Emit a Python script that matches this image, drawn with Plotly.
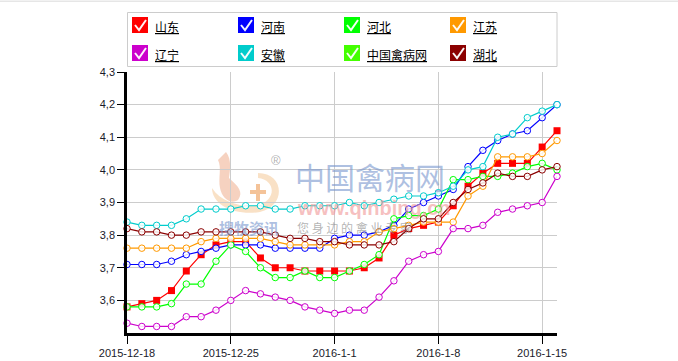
import plotly.graph_objects as go
import pandas as pd

dates = pd.date_range("2015-12-18", periods=30, freq="D")

shandong = [3.58,3.59,3.60,3.63,3.69,3.74,3.77,3.78,3.78,3.73,3.70,3.70,3.69,3.69,3.69,3.69,3.70,3.73,3.80,3.82,3.83,3.84,3.89,3.95,3.99,4.02,4.02,4.02,4.07,4.12]
henan = [3.71,3.71,3.71,3.72,3.74,3.75,3.76,3.77,3.77,3.77,3.76,3.76,3.76,3.76,3.79,3.80,3.80,3.81,3.83,3.88,3.90,3.92,3.94,4.01,4.06,4.09,4.11,4.12,4.16,4.20]
hebei = [3.58,3.58,3.58,3.59,3.65,3.65,3.72,3.77,3.75,3.70,3.67,3.67,3.69,3.67,3.67,3.69,3.71,3.74,3.85,3.86,3.86,3.88,3.97,3.97,3.98,3.98,3.99,4.01,4.02,4.00]
jiangsu = [3.76,3.76,3.76,3.76,3.76,3.78,3.79,3.79,3.79,3.79,3.78,3.77,3.77,3.77,3.77,3.78,3.78,3.81,3.82,3.83,3.84,3.84,3.84,3.92,3.95,4.04,4.04,4.04,4.05,4.09]
liaoning = [3.53,3.52,3.52,3.52,3.55,3.55,3.57,3.60,3.63,3.62,3.61,3.60,3.58,3.57,3.56,3.57,3.57,3.61,3.66,3.72,3.74,3.75,3.82,3.82,3.83,3.87,3.88,3.89,3.90,3.98]
anhui = [3.84,3.83,3.83,3.83,3.85,3.88,3.88,3.88,3.89,3.89,3.88,3.88,3.89,3.89,3.89,3.90,3.89,3.90,3.91,3.92,3.92,3.93,3.95,4.00,4.01,4.10,4.11,4.16,4.18,4.20]
hubei = [3.82,3.81,3.81,3.80,3.80,3.81,3.81,3.81,3.81,3.81,3.80,3.79,3.79,3.78,3.78,3.77,3.77,3.77,3.78,3.82,3.85,3.85,3.90,3.94,3.96,3.99,3.98,3.98,4.00,4.01]

legend_names = ["山东","河南","河北","江苏","辽宁","安徽","中国禽病网","湖北"]
legend_colors = ["#ff0000","#0000ff","#00ff00","#ff9900","#cc00cc","#00cccc","#44ff00","#8b0000"]
y_ticks = [3.6,3.7,3.8,3.9,4.0,4.1,4.2,4.3]

W,H = 678,361
L,R,T,B = 127,557,72,333
px = lambda x:(x-L)/(R-L)
py = lambda y:(B-y)/(B-T)

fig = go.Figure()
line_series = [("山东",shandong,0),("河南",henan,1),("河北",hebei,2),("江苏",jiangsu,3),("辽宁",liaoning,4),("安徽",anhui,5),("湖北",hubei,7)]
for name,vals,ci in line_series:
    c = legend_colors[ci]
    if name=="山东":
        marker = dict(symbol="square",size=7,color=c,line=dict(width=0))
    else:
        marker = dict(symbol="circle",size=6.5,color="rgba(255,255,255,0.85)",line=dict(width=1,color=c))
    fig.add_trace(go.Scatter(x=dates,y=vals,mode="lines+markers",name=name,line=dict(color=c,width=1.2),marker=marker,cliponaxis=False,showlegend=False))

shapes=[]; anns=[]
def rect(x0,y0,x1,y1,fill=None,line=None,lw=1,layer="above"):
    shapes.append(dict(type="rect",xref="paper",yref="paper",x0=px(x0),x1=px(x1),y0=py(y0),y1=py(y1),fillcolor=fill or "rgba(0,0,0,0)",line=dict(color=line or "rgba(0,0,0,0)",width=lw),layer=layer))
def path(pts,color,lw=2,fill=None,layer="above"):
    out=[]
    for tok in pts.split():
        if "," in tok:
            a,b=tok.split(",")
            out.append(f"{px(float(a))},{py(float(b))}")
        else:
            out.append(tok)
    shapes.append(dict(type="path",xref="paper",yref="paper",path=" ".join(out),line=dict(color=color,width=lw),fillcolor=fill or "rgba(0,0,0,0)",layer=layer))
def text(x,y,t,size,color="#000",family="Liberation Sans",anchor="left",opacity=1):
    anns.append(dict(xref="paper",yref="paper",x=px(x),y=py(y),text=t,showarrow=False,xanchor=anchor,yanchor="middle",font=dict(size=size,color=color,family=family),opacity=opacity))

# page top rule and legend frame
rect(0,0.5,W,2,fill="#e6e6e6")
rect(127.5,12.5,557,66.5,fill="white",line="#cccccc",lw=1)
cols=[132,238,344,450]; rows=[17,45]
for i,(n,c) in enumerate(zip(legend_names,legend_colors)):
    x=cols[i%4]; y=rows[i//4]
    rect(x,y,x+16,y+16,fill=c)
    path(f"M {x+3},{y+8} L {x+7},{y+13} L {x+14},{y+3}","rgba(255,255,255,0.95)",lw=2)
    text(x+21,y+9,f"<u>{n}</u>",12,family="Noto Sans CJK SC")

# watermark
wm="rgba(245,205,160,0.6)"
path("M 258,173 C 284,173 287,205 260,212 C 235,216 212,205 212,188 C 222,204 246,208 260,205 C 277,198 275,180 258,178 Z",wm,lw=0,fill=wm,layer="below")
path("M 226,152 C 232,160 230,170 229,178 C 238,186 244,192 238,200 C 230,205 222,198 220,188 C 218,178 222,168 218,160 Z","rgba(240,180,150,0.6)",lw=0,fill="rgba(240,180,150,0.6)",layer="below")
path("M 258,184 L 258,201 M 250,192 L 266,192","rgba(240,170,110,0.7)",lw=4,layer="below")
text(269,160,"®",13,color="rgba(120,120,120,0.6)")
text(293,176,"中国禽病网",30,color="rgba(120,150,205,0.6)",family="Noto Sans CJK SC")
text(295,208,"<b>www.qinbing.cn</b>",20,color="rgba(240,150,150,0.6)",family="Liberation Sans")
text(217,228,"<b>搜牧资讯</b>",15,color="rgba(120,150,205,0.6)",family="Noto Sans CJK SC")
text(295,228,"您 身 边 的 禽 业 专 家",12,color="rgba(130,130,130,0.6)",family="Noto Sans CJK SC")

fig.update_layout(
    width=W,height=H,margin=dict(l=L,r=W-R,t=T,b=H-B,pad=0),
    paper_bgcolor="white",plot_bgcolor="white",separators=",.",
    showlegend=False,shapes=shapes,annotations=anns,
    font=dict(family="Liberation Sans",size=11,color="#1a1a2a"),
    xaxis=dict(type="date",range=["2015-12-18","2016-01-16"],tick0="2015-12-18",dtick=7*86400000,automargin=False,
               tickformat="%Y-%-m-%-d",showgrid=True,gridcolor="#cccccc",gridwidth=1,zeroline=False,
               showline=True,linecolor="#000",linewidth=2.5,ticks="outside",ticklen=8,tickcolor="#000",tickwidth=1),
    yaxis=dict(range=[3.5,4.3],tickvals=y_ticks,tickformat=".1f",showgrid=True,gridcolor="#cccccc",gridwidth=1,zeroline=False,automargin=False,
               showline=True,linecolor="#000",linewidth=2.5,ticks="outside",ticklen=7,tickcolor="#000",tickwidth=1),
)
fig.write_html("out.html",post_script="document.body.style.margin='0';",config={"displayModeBar":False})
